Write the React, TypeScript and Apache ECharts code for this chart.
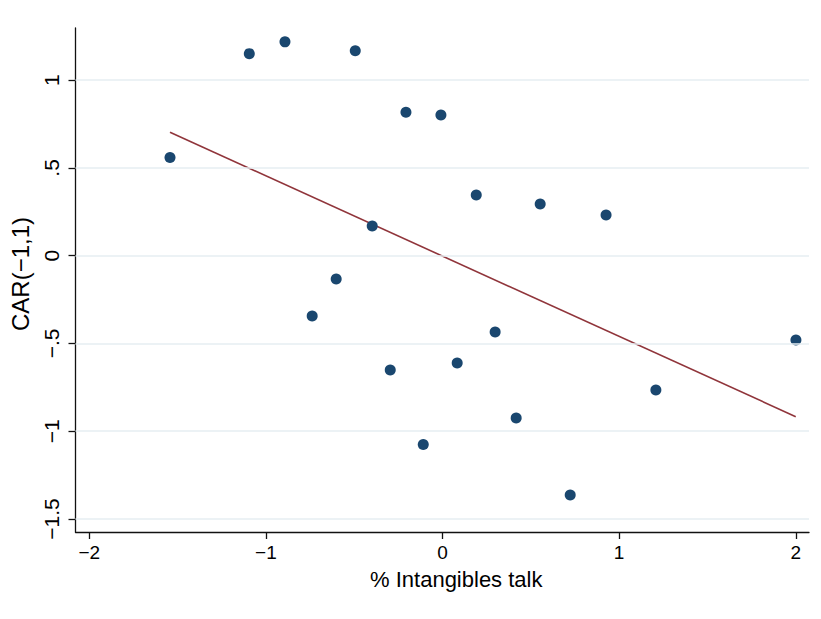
import React, { useEffect, useRef } from "react";
import * as echarts from "echarts";

// Scatter points: % Intangibles talk (x) vs CAR(-1,1) (y)
const pointsX = [-1.543, -1.094, -0.892, -0.494, -0.207, -0.009, 0.191, 0.553, 0.926, -0.398, -0.602, -0.738, 0.298, 2.001, -0.296, 0.083, -0.109, 0.417, 1.208, 0.723];
const pointsY = [0.559, 1.151, 1.218, 1.168, 0.817, 0.802, 0.346, 0.295, 0.232, 0.169, -0.133, -0.343, -0.435, -0.48, -0.651, -0.611, -1.075, -0.925, -0.765, -1.363];

// Fitted line endpoints
const fitX = [-1.543, 2.0];
const fitY = [0.703, -0.917];

// Ticks
const xTickValues = [-2, -1, 0, 1, 2];
const xTickLabels = ["\u22122", "\u22121", "0", "1", "2"];
const yTickValues = [-1.5, -1, -0.5, 0, 0.5, 1];
const yTickLabels = ["\u22121.5", "\u22121", "\u2212.5", "0", ".5", "1"];

const FONT = "'Liberation Sans', Arial, Helvetica, sans-serif";

export default function App() {
  const ref = useRef<HTMLDivElement>(null);
  useEffect(() => {
    document.body.style.margin = "0";
    if (!ref.current) return;
    const chart = echarts.init(ref.current, null, { renderer: "svg" });
    const scatterData = pointsX.map((x, i) => [x, pointsY[i]]);
    const fitData = fitX.map((x, i) => [x, fitY[i]]);
    const lookup = (vals: number[], labels: string[]) => (v: number) => {
      const i = vals.findIndex((t) => Math.abs(t - v) < 1e-6);
      return i >= 0 ? labels[i] : "";
    };
    chart.setOption({
      animation: false,
      backgroundColor: "#ffffff",
      grid: { left: 75.5, right: 12, top: 28, bottom: 87, containLabel: false },
      xAxis: {
        type: "value",
        min: -2.078,
        max: 2.075,
        name: "% Intangibles talk",
        nameLocation: "middle",
        nameGap: 36,
        nameTextStyle: { fontFamily: FONT, fontSize: 22, color: "#000", padding: [0, 0, 0, 28] },
        axisLine: { show: true, onZero: false, lineStyle: { color: "#111", width: 1.3 } },
        axisTick: { show: true, length: 7, customValues: xTickValues, lineStyle: { color: "#111", width: 1.3 } },
        axisLabel: {
          show: true,
          customValues: xTickValues,
          margin: 11,
          fontFamily: FONT,
          fontSize: 19,
          color: "#000",
          formatter: lookup(xTickValues, xTickLabels),
        },
        splitLine: { show: false },
      },
      yAxis: {
        type: "value",
        min: -1.574,
        max: 1.297,
        name: "CAR(\u22121,1)",
        nameLocation: "middle",
        nameGap: 38,
        nameRotate: 90,
        nameTextStyle: { fontFamily: FONT, fontSize: 24, color: "#000", padding: [0, 0, 0, 12] },
        axisLine: { show: true, onZero: false, lineStyle: { color: "#111", width: 1.3 } },
        axisTick: { show: true, length: 7, customValues: yTickValues, lineStyle: { color: "#111", width: 1.3 } },
        axisLabel: {
          show: true,
          customValues: yTickValues,
          rotate: 90,
          margin: 14,
          fontFamily: FONT,
          fontSize: 21,
          color: "#000",
          formatter: lookup(yTickValues, yTickLabels),
        },
        splitLine: { show: false },
      },
      series: [
        {
          type: "scatter",
          data: [],
          z: 1,
          silent: true,
          markLine: {
            silent: true,
            symbol: "none",
            label: { show: false },
            lineStyle: { color: "#e6eef2", width: 1.5, type: "solid" },
            data: yTickValues.map((v) => ({ yAxis: v })),
          },
        },
        {
          type: "line",
          data: fitData,
          z: 2,
          showSymbol: false,
          symbol: "none",
          lineStyle: { color: "#90353b", width: 1.6 },
        },
        {
          type: "scatter",
          data: scatterData,
          z: 3,
          symbol: "circle",
          symbolSize: 11,
          itemStyle: { color: "#1a476f", opacity: 1 },
        },
      ],
    });
    return () => chart.dispose();
  }, []);
  return <div ref={ref} style={{ width: 821, height: 619 }} />;
}
